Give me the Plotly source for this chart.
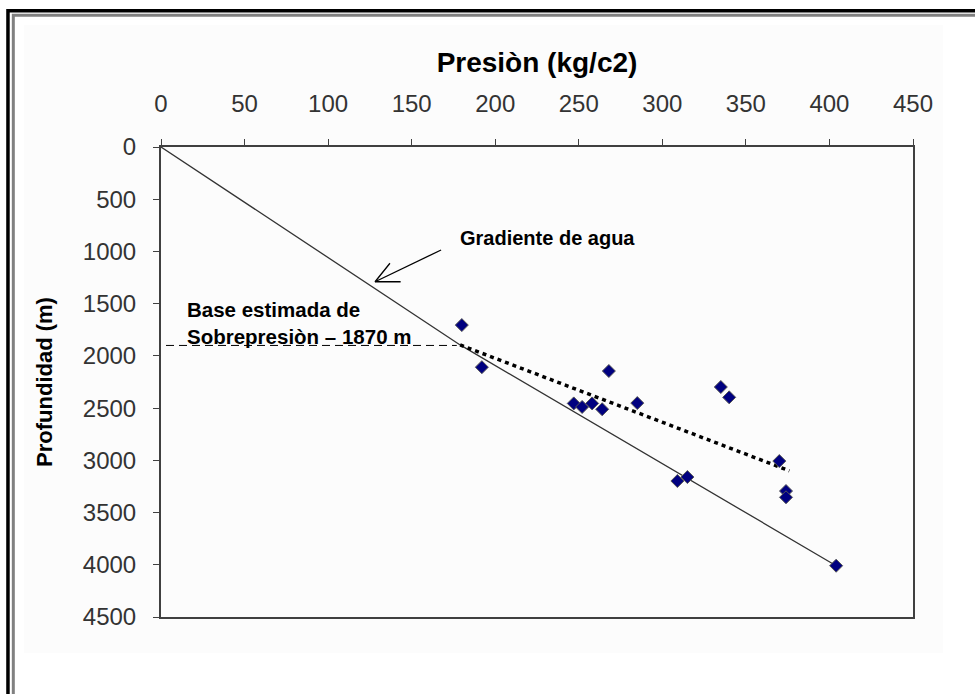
import plotly.graph_objects as go

# Datos
presion = [180, 192, 268, 247, 252, 258, 264, 285, 335, 340, 370, 309, 315, 374, 374, 404]
profundidad = [1705, 2108, 2145, 2455, 2489, 2455, 2511, 2452, 2298, 2397, 3007, 3198, 3160, 3294, 3354, 4009]

# gradiente de agua (linea continua)
grad_p = [0, 179, 404]
grad_d = [0, 1895, 4009]

# tendencia de sobrepresion (linea punteada)
trend_p = [179, 376]
trend_d = [1895, 3100]

# base estimada de sobrepresion (linea de trazos)
base_p = [3, 177]
base_d = [1900, 1900]

# flecha abierta del rotulo "Gradiente de agua"
arrow_p = [167.6, 128.1, None, 137.0, 128.1, 143.4]
arrow_d = [986, 1290, None, 1113, 1290, 1290]

x_ticks = [0, 50, 100, 150, 200, 250, 300, 350, 400, 450]
y_ticks = [0, 500, 1000, 1500, 2000, 2500, 3000, 3500, 4000, 4500]

font_main = 'Arial, Liberation Sans'

fig = go.Figure()

fig.add_trace(go.Scatter(x=grad_p, y=grad_d, mode='lines',
                         line=dict(color='#333333', width=1.3), hoverinfo='skip'))
fig.add_trace(go.Scatter(x=base_p, y=base_d, mode='lines',
                         line=dict(color='#000000', width=1, dash='8px,5px'), hoverinfo='skip'))
fig.add_trace(go.Scatter(x=trend_p, y=trend_d, mode='lines',
                         line=dict(color='#000000', width=3.5, dash='4px,4px'), hoverinfo='skip'))
fig.add_trace(go.Scatter(x=arrow_p, y=arrow_d, mode='lines',
                         line=dict(color='#000000', width=1.3), hoverinfo='skip'))
fig.add_trace(go.Scatter(x=presion, y=profundidad, mode='markers',
                         marker=dict(symbol='diamond', size=10, color='#000080',
                                     line=dict(color='#555555', width=1))))

fig.add_annotation(x=178, y=871, xref='x', yref='y', text='<b>Gradiente de agua</b>',
                   showarrow=False, xanchor='left', yanchor='middle',
                   font=dict(family=font_main, size=20, color='#000000'))
fig.add_annotation(x=14.4, y=1686, xref='x', yref='y',
                   text='<b>Base estimada de<br>Sobrepresiòn – 1870 m</b>',
                   showarrow=False, xanchor='left', yanchor='middle', align='left',
                   font=dict(family=font_main, size=20.5, color='#000000'))

# marco exterior (doble linea) y area del grafico
fig.add_shape(type='rect', xref='paper', yref='paper', x0=-0.1822, x1=1.0399, y0=-0.0766, y1=1.2596,
              line=dict(width=0), fillcolor='#fcfcfc', layer='below')
fig.add_shape(type='path', xref='paper', yref='paper',
              path='M -0.2035,-0.5 L -0.2035,1.290 L 1.5,1.290',
              line=dict(color='#000000', width=3.5))
fig.add_shape(type='path', xref='paper', yref='paper',
              path='M -0.1964,-0.5 L -0.1964,1.2802 L 1.5,1.2802',
              line=dict(color='#808080', width=3))

fig.update_layout(
    width=975, height=694,
    margin=dict(l=161, r=62, t=147, b=77),
    paper_bgcolor='#ffffff',
    plot_bgcolor='#fdfdfd',
    showlegend=False,
    font=dict(family=font_main, color='#333333'),
)
fig.update_xaxes(
    side='top', range=[0, 450], tickvals=x_ticks, ticktext=[str(v) for v in x_ticks],
    showgrid=False, zeroline=False, showline=True, mirror=True,
    linecolor='#404040', linewidth=2, ticks='outside', ticklen=6, tickcolor='#404040',
    tickfont=dict(size=24, color='#333333'), ticklabelstandoff=17,
    title=dict(text='<b>Presiòn (kg/c2)</b>', standoff=10,
               font=dict(family=font_main, size=28, color='#000000')),
)
fig.update_yaxes(
    range=[4500, 0], tickvals=y_ticks, ticktext=[str(v) for v in y_ticks],
    showgrid=False, zeroline=False, showline=True, mirror=True,
    linecolor='#404040', linewidth=2, ticks='outside', ticklen=6, tickcolor='#404040',
    tickfont=dict(size=24, color='#333333'), ticklabelstandoff=12,
    title=dict(text='<b>Profundidad (m)</b>', standoff=24,
               font=dict(family=font_main, size=22, color='#000000')),
)

# quitar el margen del body para que el grafico ocupe la ventana entera
fig.write_html("out.html", config={'displayModeBar': False},
               post_script="document.body.style.margin='0';")
